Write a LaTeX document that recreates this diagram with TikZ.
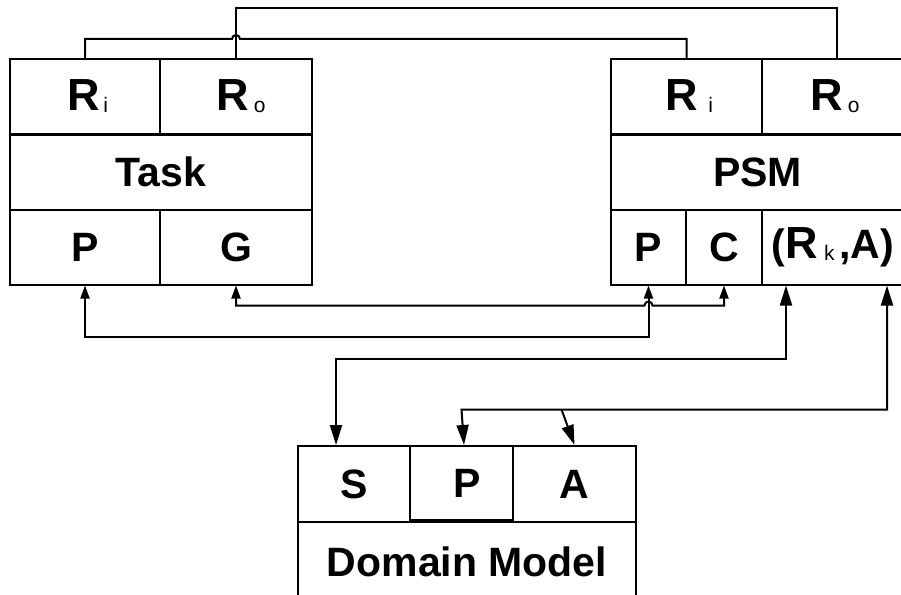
\documentclass[tikz,border=0pt]{standalone}
\usepackage{fontspec}
\setmainfont{Liberation Sans}
\usetikzlibrary{arrows.meta,calc}
% small regular-weight index set on the baseline
\newcommand\lowsub[1]{\raisebox{-2pt}{\fontsize{21}{21}\mdseries\selectfont #1}}
\newcommand\bigR{{\fontsize{45}{45}\selectfont R}}
\tikzset{
  tipS/.tip={Triangle[length=13pt,width=9pt]},
  tipL/.tip={Triangle[length=20pt,width=12pt]},
}
\begin{document}
\begin{tikzpicture}[x=1pt,y=-1pt,
  cell/.style={draw, line width=2pt, inner sep=0pt,
    font=\fontsize{41}{41}\selectfont\bfseries},
  wire/.style={line width=2pt}]
\useasboundingbox (0,0) rectangle (901,594);

% Task
\node[cell, minimum width=150pt, minimum height=75pt] (tRi) at (85,96.5) {\hspace{6pt}\bigR\hspace{3pt}\lowsub{i}};
\node[cell, minimum width=152pt, minimum height=75pt] (tRo) at (236,96.5) {\hspace{10pt}\bigR\hspace{5pt}\lowsub{o}};
\node[cell, minimum width=302pt, minimum height=75pt] (task) at (161,172) {Task};
\node[cell, minimum width=150pt, minimum height=75pt] (tP) at (85,247) {P};
\node[cell, minimum width=152pt, minimum height=75pt] (tG) at (236,247) {G};

% PSM
\node[cell, minimum width=151pt, minimum height=75pt] (pRi) at (686.5,96.5) {\hspace{6pt}\bigR\hspace{10pt}\lowsub{i}};
\node[cell, minimum width=142pt, minimum height=75pt] (pRo) at (833,96.5) {\hspace{4pt}\bigR\hspace{5pt}\lowsub{o}};
\node[cell, minimum width=293pt, minimum height=75pt] (psm) at (757.5,172) {PSM};
\node[cell, minimum width=75pt, minimum height=75pt] (pP) at (648.5,247) {P};
\node[cell, minimum width=76pt, minimum height=75pt] (pC) at (724,247) {C};
\node[cell, minimum width=142pt, minimum height=75pt] (pRA) at (833,247)
  {(\bigR\hspace{6pt}\lowsub{k}\hspace{5pt},A)};

% Domain Model
\node[cell, minimum width=338pt, minimum height=88pt] (dm) at (467,566) {\raisebox{9pt}{Domain Model}};
\node[cell, minimum width=112pt, minimum height=76pt] (dS) at (354,484) {S};
\node[cell, minimum width=103pt, minimum height=74pt] (dP) at (461.5,483) {\hspace{12pt}P};
\node[cell, minimum width=123pt, minimum height=76pt] (dA) at (574.5,484) {A};

% points where the lines meet the boxes
\coordinate (hopA) at ([xshift=-4pt]tRo.north);
\coordinate (hopB) at ([xshift=-4pt]pP.south);
\coordinate (rkIn) at ([xshift=-47pt]pRA.south);
\coordinate (aIn) at ([xshift=54pt]pRA.south);
\coordinate (sIn) at ([xshift=-18pt]dS.north);

% input roles
\draw[wire] (tRi.north) -- ++(0,-19) coordinate (bendA) -- (bendA -| hopA)
  arc[start angle=180, end angle=0, radius=4pt] -| (pRi.north);
% output roles
\draw[wire] (tRo.north) -- ++(0,-50) -| ([xshift=4pt]pRo.north);

% P <-> P and G <-> C
\draw[wire, tipS-tipS] (tP.south) |- ($(pP.south)+(0,51)$) -- (pP.south);
\draw[wire, tipS-tipS] (tG.south) -- ++(0,20) coordinate (bendC) -- (bendC -| hopB)
  arc[start angle=180, end angle=0, radius=4pt] -| (pC.south);

% knowledge roles to the domain model
\draw[wire, tipL-tipL] (rkIn) -- ++(0,73) -| (sIn);
\draw[wire, tipL-tipL] (aIn) -- ++(0,124) coordinate (busA) -- (busA -| dP.north)
  -- ([xshift=2.5pt]dP.north);
\draw[wire, -tipL] ([xshift=-13pt]dA.north |- busA) -- (dA.north);
\end{tikzpicture}
\end{document}
